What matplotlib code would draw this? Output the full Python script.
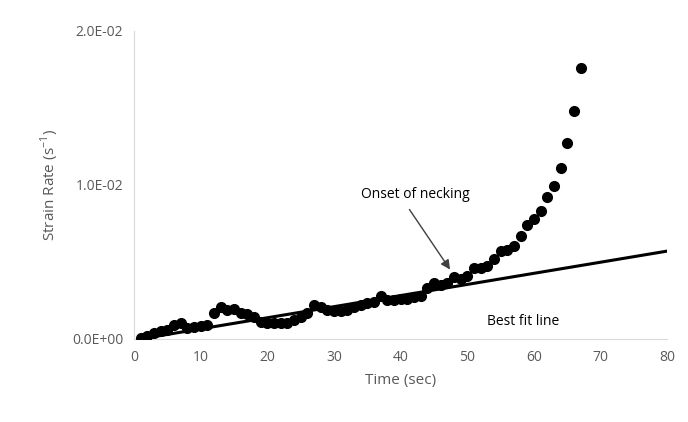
import numpy as np
import matplotlib.pyplot as plt

# --------------------------------------------------
# Data
# --------------------------------------------------
time_sec = list(range(1, 68))
strain_rate = [
    0.00005, 0.0002, 0.00035, 0.0005, 0.0006, 0.0009, 0.00105, 0.0007, 0.00075, 0.00085,
    0.0009, 0.0017, 0.0021, 0.0019, 0.00195, 0.0017, 0.0016, 0.0014, 0.0011, 0.0010,
    0.0010, 0.0010, 0.00105, 0.0012, 0.0014, 0.0017, 0.0022, 0.0021, 0.0019, 0.0018,
    0.0018, 0.0019, 0.0021, 0.0022, 0.0023, 0.0024, 0.0028, 0.0025, 0.0025, 0.0026,
    0.0026, 0.0027, 0.0028, 0.0033, 0.0036, 0.0035, 0.0036, 0.0040, 0.0039, 0.0041,
    0.0046, 0.0046, 0.0047, 0.0052, 0.0057, 0.0058, 0.0060, 0.0067, 0.0074, 0.0078,
    0.0083, 0.0092, 0.0099, 0.0111, 0.0127, 0.0148, 0.0176,
]

fit_x = [1, 80]
fit_y = [0.0000, 0.0057]

x_ticks = [0, 10, 20, 30, 40, 50, 60, 70, 80]
y_ticks = [0.0, 0.01, 0.02]
y_tick_labels = ["0.0E+00", "1.0E-02", "2.0E-02"]

grey = "#595959"
plt.rcParams["font.family"] = ["Open Sans", "DejaVu Sans"]

# --------------------------------------------------
# Plot
# --------------------------------------------------
fig = plt.figure(figsize=(6.88, 4.22), dpi=100)
ax = fig.add_axes([0.195, 0.197, 0.775, 0.73])

ax.plot(fit_x, fit_y, color="black", linewidth=2.2, zorder=2)
ax.plot(time_sec, strain_rate, linestyle="none", marker="o",
        markersize=7, color="black", zorder=3)

# annotations
ax.text(42.2, 0.0094, "Onset of necking", ha="center", va="center",
        fontsize=10, color="black")
ax.annotate("", xy=(47.4, 0.0045), xytext=(41.3, 0.0084),
            arrowprops=dict(arrowstyle="-|>", color="#404040", lw=1,
                            shrinkA=0, shrinkB=0, mutation_scale=14))
ax.text(58.3, 0.0011, "Best fit line", ha="center", va="center",
        fontsize=10, color="black")

ax.set_xlim(0, 80)
ax.set_ylim(0, 0.02)
ax.set_xticks(x_ticks)
ax.set_yticks(y_ticks)
ax.set_yticklabels(y_tick_labels)
ax.tick_params(length=0, labelsize=10, labelcolor=grey, pad=8)
ax.set_xlabel("Time (sec)", fontsize=11, color=grey, labelpad=6)
ax.set_ylabel("Strain Rate (s$^{\\mathregular{-1}}$)", fontsize=11, color=grey, labelpad=8)

for side in ["top", "right"]:
    ax.spines[side].set_visible(False)
for side in ["left", "bottom"]:
    ax.spines[side].set_color("#d9d9d9")
ax.spines["bottom"].set_zorder(1)

fig.savefig("out.png", dpi=100)
